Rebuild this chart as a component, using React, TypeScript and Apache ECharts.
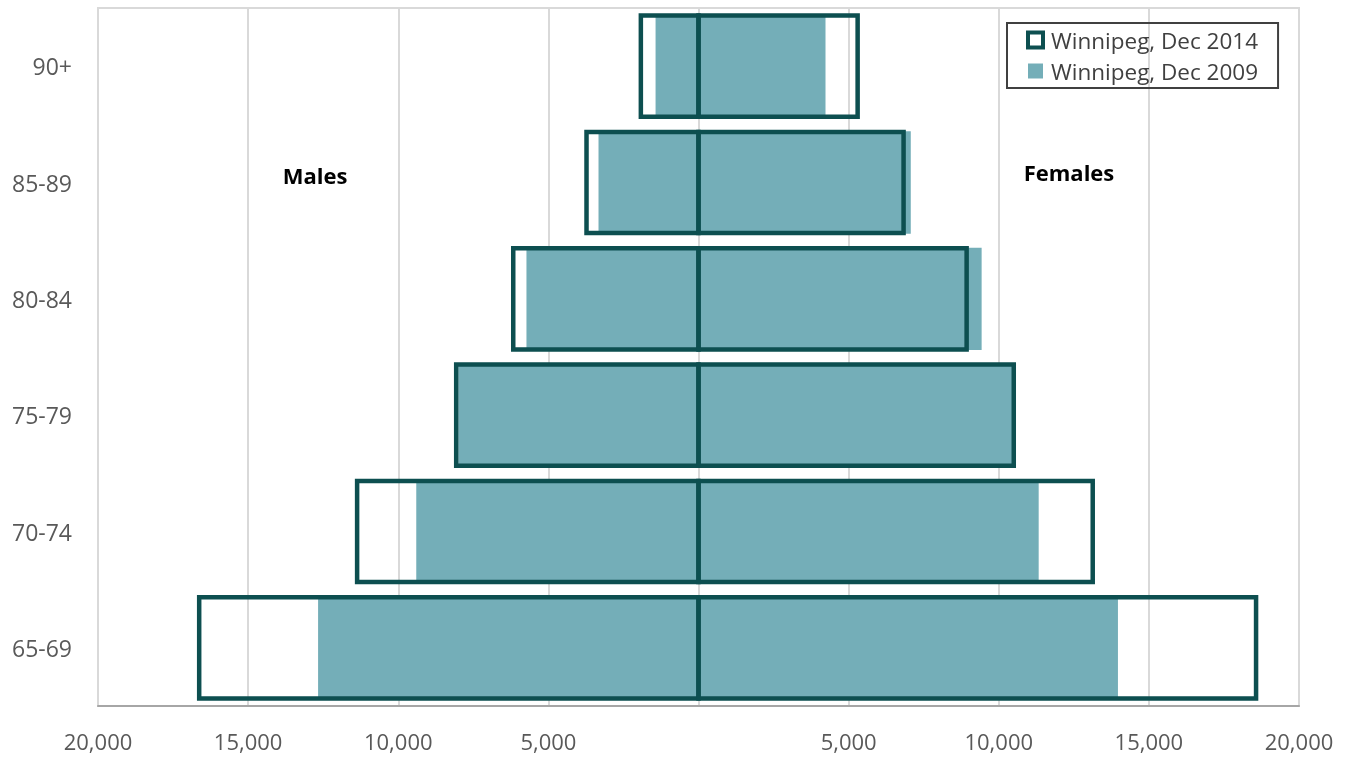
import React, { useEffect, useRef } from "react";
import * as echarts from "echarts";

const categories = ["65-69", "70-74", "75-79", "80-84", "85-89", "90+"];
const males2014 = [16630, 11370, 8070, 6170, 3730, 1920];
const females2014 = [18570, 13130, 10500, 8930, 6830, 5300];
const males2009 = [12670, 9400, 8000, 5730, 3330, 1430];
const females2009 = [13970, 11330, 10450, 9430, 7070, 4230];
const name2014 = "Winnipeg, Dec 2014";
const name2009 = "Winnipeg, Dec 2009";

const FONT = "Open Sans";
const FILL = "#74aeb8";
const DARK = "#0d4f50";

export default function App() {
  const ref = useRef<HTMLDivElement>(null);
  useEffect(() => {
    const chart = echarts.init(ref.current!, null, { renderer: "svg" });
    const common = { type: "bar", barGap: "-100%", barCategoryGap: "12%", silent: true };
    const renderOutline = (params: any, api: any) => {
      const cat = api.value(1);
      const start = api.coord([0, cat]);
      const end = api.coord([api.value(0), cat]);
      const h = api.size([0, 1])[1] * 0.87;
      return {
        type: "rect",
        shape: {
          x: Math.min(start[0], end[0]),
          y: start[1] - h / 2,
          width: Math.abs(end[0] - start[0]),
          height: h,
        },
        style: { fill: "none", stroke: DARK, lineWidth: 4.5 },
      };
    };
    const outlineSeries = (vals: number[]) => ({
      type: "custom",
      name: name2014,
      silent: true,
      renderItem: renderOutline,
      encode: { x: 0, y: 1 },
      data: vals.map((v, i) => [v, i]),
      z: 3,
    });
    chart.setOption({
      animation: false,
      textStyle: { fontFamily: FONT },
      grid: { left: 98, right: 50, top: 8, bottom: 51, show: true, borderColor: "#d9d9d9", borderWidth: 2 },
      xAxis: {
        type: "value",
        min: -20000,
        max: 20000,
        interval: 5000,
        axisLine: { show: true, lineStyle: { color: "#a6a6a6", width: 2 } },
        axisTick: { show: false },
        splitLine: { show: true, lineStyle: { color: "#d9d9d9", width: 2 } },
        axisLabel: {
          color: "#595959",
          fontSize: 22,
          lineHeight: 22,
          margin: 24,
          fontFamily: FONT,
          formatter: (v: number) => (v === 0 ? "" : Math.abs(v).toLocaleString("en-US")),
        },
      },
      yAxis: {
        type: "category",
        data: categories,
        axisLine: { show: false },
        axisTick: { show: false },
        axisLabel: { color: "#595959", fontSize: 23, margin: 26, fontFamily: FONT },
      },
      legend: {
        orient: "vertical",
        left: 1007,
        top: 23,
        padding: [5, 20, 5, 19],
        borderColor: "#404040",
        borderWidth: 2,
        itemWidth: 15,
        itemHeight: 15,
        itemGap: 7,
        textStyle: { fontSize: 22.5, color: "#404040", fontFamily: FONT, lineHeight: 24, padding: [0, 0, 0, 3] },
        data: [
          { name: name2014, icon: "rect", itemStyle: { color: "#ffffff", borderColor: DARK, borderWidth: 4 } },
          { name: name2009, icon: "rect", itemStyle: { color: FILL, borderWidth: 0 } },
        ],
        selectedMode: false,
      },
      graphic: [
        { type: "text", x: 315, y: 175, style: { text: "Males", fontSize: 22, fontWeight: "bold", fill: "#000", fontFamily: FONT, align: "center", verticalAlign: "middle" } },
        { type: "text", x: 1069, y: 172, style: { text: "Females", fontSize: 22, fontWeight: "bold", fill: "#000", fontFamily: FONT, align: "center", verticalAlign: "middle" } },
      ],
      series: [
        { ...common, name: name2009, data: males2009.map((v) => -v), itemStyle: { color: FILL } },
        { ...common, name: name2009, data: females2009, itemStyle: { color: FILL } },
        outlineSeries(males2014.map((v) => -v)),
        outlineSeries(females2014),
      ],
    });
    return () => chart.dispose();
  }, []);
  return <div ref={ref} style={{ position: "fixed", left: 0, top: 0, width: 1349, height: 757 }} />;
}
